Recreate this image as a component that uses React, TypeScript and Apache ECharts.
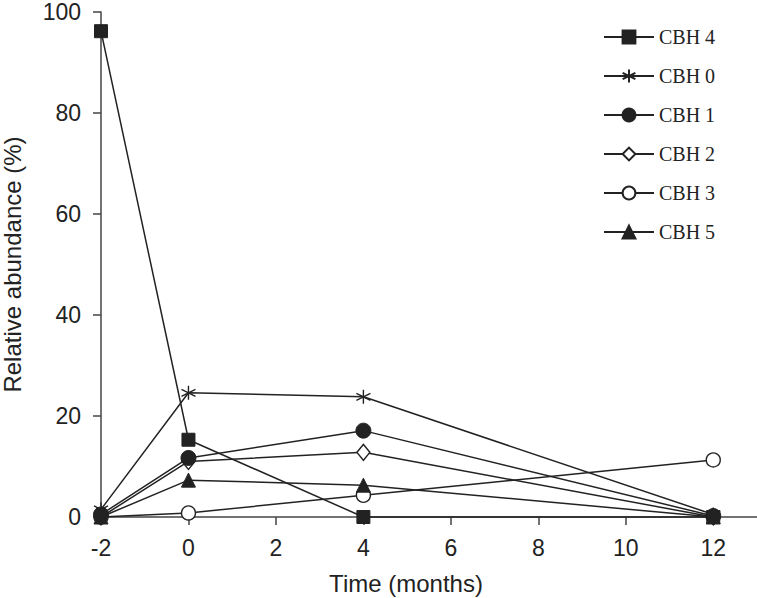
import React, { useEffect, useRef } from "react";
import * as echarts from "echarts";

const months = [-2, 0, 4, 12];
const xTickValues = [-2, 0, 2, 4, 6, 8, 10, 12];
const cbh4 = [96.2, 15.3, 0, 0];
const cbh0 = [1.5, 24.6, 23.8, 0.5];
const cbh1 = [0.5, 11.7, 17.1, 0.2];
const cbh2 = [0, 11.0, 12.8, 0];
const cbh3 = [0, 0.8, 4.3, 11.3];
const cbh5 = [0, 7.3, 6.3, 0];

const INK = "#222";
const ASTERISK = "path://M5,0L5,10M0.67,2.5L9.33,7.5M0.67,7.5L9.33,2.5";

const toPairs = (vals: number[]) => months.map((m, i) => [m, vals[i]]);

export default function App() {
  const ref = useRef<HTMLDivElement>(null);
  useEffect(() => {
    if (!ref.current) return;
    const chart = echarts.init(ref.current, undefined, { renderer: "svg" });
    const base = {
      type: "line",
      clip: false,
      lineStyle: { color: INK, width: 1.5 },
      emphasis: { disabled: true },
    };
    const filled = { color: INK, borderColor: INK, borderWidth: 1 };
    const open = { color: "#fff", borderColor: INK, borderWidth: 1.4 };
    chart.setOption({
      animation: false,
      grid: { left: 101, right: 0, top: 12, bottom: 81, containLabel: false, outerBoundsMode: "none" },
      legend: {
        orient: "vertical",
        left: 598,
        top: 22,
        itemWidth: 50,
        itemHeight: 16,
        itemGap: 19,
        textStyle: {
          fontFamily: "Liberation Serif",
          fontSize: 20,
          lineHeight: 20,
          color: "#222",
        },
        data: ["CBH 4", "CBH 0", "CBH 1", "CBH 2", "CBH 3", "CBH 5"],
      },
      xAxis: {
        type: "value",
        min: -2,
        max: 13,
        interval: 2,
        name: "Time (months)",
        nameLocation: "middle",
        nameGap: 54,
        nameTextStyle: {
          fontFamily: "Liberation Sans",
          fontSize: 24,
          color: "#222",
          padding: [0, 46, 0, 0],
        },
        axisLine: { show: true, onZero: false, lineStyle: { color: "#444", width: 1.5 } },
        axisTick: {
          show: true,
          length: 8,
          inside: false,
          customValues: xTickValues,
          lineStyle: { color: "#444", width: 1.5 },
        },
        axisLabel: {
          customValues: xTickValues,
          margin: 19,
          fontFamily: "Liberation Sans",
          fontSize: 23,
          color: "#222",
        },
        splitLine: { show: false },
      },
      yAxis: {
        type: "value",
        min: 0,
        max: 100,
        interval: 20,
        name: "Relative abundance (%)",
        nameLocation: "middle",
        nameGap: 77,
        nameRotate: 90,
        nameTextStyle: {
          fontFamily: "Liberation Sans",
          fontSize: 24,
          color: "#222",
        },
        axisLine: { show: true, onZero: false, lineStyle: { color: "#444", width: 1.5 } },
        axisTick: { show: true, length: 8, lineStyle: { color: "#444", width: 1.5 } },
        axisLabel: {
          margin: 20,
          fontFamily: "Liberation Sans",
          fontSize: 23,
          color: "#222",
        },
        splitLine: { show: false },
      },
      series: [
        { ...base, name: "CBH 0", data: toPairs(cbh0), symbol: ASTERISK, symbolSize: 14, itemStyle: { color: INK, borderColor: INK, borderWidth: 1.4 } },
        { ...base, name: "CBH 3", data: toPairs(cbh3), symbol: "circle", symbolSize: 14, itemStyle: open },
        { ...base, name: "CBH 2", data: toPairs(cbh2), symbol: "diamond", symbolSize: [13, 16], itemStyle: open },
        { ...base, name: "CBH 5", data: toPairs(cbh5), symbol: "triangle", symbolSize: 14, itemStyle: filled },
        { ...base, name: "CBH 1", data: toPairs(cbh1), symbol: "circle", symbolSize: 15, itemStyle: filled },
        { ...base, name: "CBH 4", data: toPairs(cbh4), symbol: "rect", symbolSize: 13, itemStyle: filled },
      ],
    });
    return () => chart.dispose();
  }, []);
  return (
    <div
      ref={ref}
      style={{ position: "fixed", left: 0, top: 0, width: 757, height: 598, background: "#fff" }}
    />
  );
}
